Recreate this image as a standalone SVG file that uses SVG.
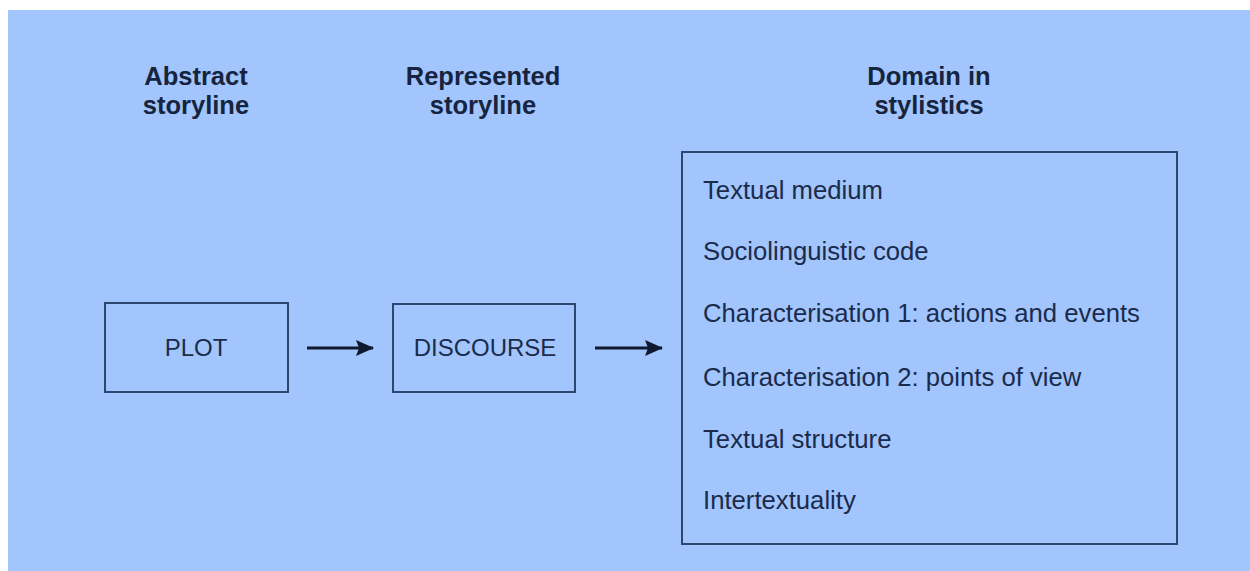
<svg xmlns="http://www.w3.org/2000/svg" width="1250" height="571" viewBox="0 0 1250 571">
<defs>
<style>
.hdr{font-family:"Liberation Sans",Arial,sans-serif;font-size:25.5px;font-weight:bold;fill:#16243f;text-anchor:middle}
.lbl{font-family:"Liberation Sans",Arial,sans-serif;font-size:24px;fill:#1b2b4b}
.item{font-family:"Liberation Sans",Arial,sans-serif;font-size:25.7px;fill:#1b2b4b}
.box{fill:none;stroke:#2c4670;stroke-width:2}
.con{stroke:#0f1a30;stroke-width:3;fill:none}
</style>
<marker id="ah" markerWidth="18" markerHeight="16" refX="17" refY="8" orient="auto" markerUnits="userSpaceOnUse" viewBox="0 0 18 16">
<path d="M0,0 L18,8 L0,16 L3,8 Z" fill="#0f1a30"/>
</marker>
</defs>
<rect x="0" y="0" width="1250" height="571" fill="#ffffff"/>
<rect x="8" y="10" width="1242" height="561" fill="#a1c5fc"/>
<g id="headers">
<text class="hdr" x="196" y="85">Abstract</text>
<text class="hdr" x="196" y="114">storyline</text>
<text class="hdr" x="483" y="85">Represented</text>
<text class="hdr" x="483" y="114">storyline</text>
<text class="hdr" x="929" y="85">Domain in</text>
<text class="hdr" x="929" y="114">stylistics</text>
</g>
<g id="plot">
<rect class="box" x="105" y="303" width="183" height="89"/>
<text class="lbl" x="196" y="356" text-anchor="middle">PLOT</text>
</g>
<g id="discourse">
<rect class="box" x="393" y="304" width="182" height="88"/>
<text class="lbl" x="485" y="356" text-anchor="middle">DISCOURSE</text>
</g>
<g id="domain">
<rect class="box" x="682" y="152" width="495" height="392"/>
<text class="item" x="703" y="199">Textual medium</text>
<text class="item" x="703" y="260">Sociolinguistic code</text>
<text class="item" x="703" y="322">Characterisation 1: actions and events</text>
<text class="item" x="703" y="386">Characterisation 2: points of view</text>
<text class="item" x="703" y="448">Textual structure</text>
<text class="item" x="703" y="509">Intertextuality</text>
</g>
<g id="connectors">
<line class="con" x1="307" y1="348" x2="373" y2="348" marker-end="url(#ah)"/>
<line class="con" x1="595" y1="348" x2="662" y2="348" marker-end="url(#ah)"/>
</g>
</svg>
